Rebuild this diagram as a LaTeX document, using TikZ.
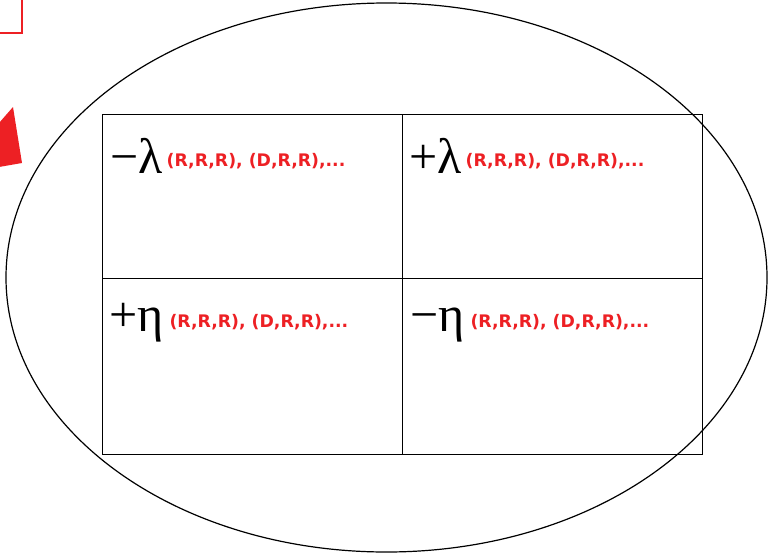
\documentclass[tikz,border=0pt]{standalone}
\usepackage{fontspec}
\setmainfont{Liberation Serif}
\newfontfamily\lblfont{DejaVu Sans}
\definecolor{signred}{HTML}{ED2024}
\tikzset{
  sym/.style={inner sep=0pt,anchor=base west,font=\fontsize{50}{50}\selectfont},
  lbl/.style={inner sep=0pt,anchor=base west,text=signred,font=\lblfont\bfseries\fontsize{17.3}{17.3}\selectfont}
}
\begin{document}
\begin{tikzpicture}[x=1pt,y=-1pt,line width=.8pt]
  \useasboundingbox (0,0) rectangle (771,555);
  % cut-off marks at the left edge
  \draw[signred,line width=1.5pt] (0,33)--(22,33)--(22,-2);
  \fill[signred] (-1,123)--(13,107)--(22,163)--(-1,167)--cycle;
  % outer ellipse
  \draw[line width=1.2pt] (386.5,277.5) ellipse [x radius=380.5,y radius=274.5];
  % grid
  \coordinate (tl) at (102,114.5);
  \coordinate (tr) at (702.5,114.5);
  \coordinate (bl) at (102,454.5);
  \coordinate (br) at (702.5,454.5);
  \draw (tl) rectangle (br);
  \draw (402,114.5)--(402,454.5);
  \draw (102,278)--(702.5,278);
  % quadrant labels
  \node[sym] (lamneg) at (110,173) {−λ};
  \node[lbl] at ([xshift=3pt,yshift=7pt]lamneg.base east) {(R,R,R), (D,R,R),...};
  \node[sym] (lampos) at (409,173) {+λ};
  \node[lbl] at ([xshift=3pt,yshift=7pt]lampos.base east) {(R,R,R), (D,R,R),...};
  \node[sym] (etapos) at (109,331) {+η};
  \node[lbl] at ([xshift=5pt,yshift=4pt]etapos.base east) {(R,R,R), (D,R,R),...};
  \node[sym] (etaneg) at (410,331) {−η};
  \node[lbl] at ([xshift=5pt,yshift=4pt]etaneg.base east) {(R,R,R), (D,R,R),...};
\end{tikzpicture}
\end{document}
